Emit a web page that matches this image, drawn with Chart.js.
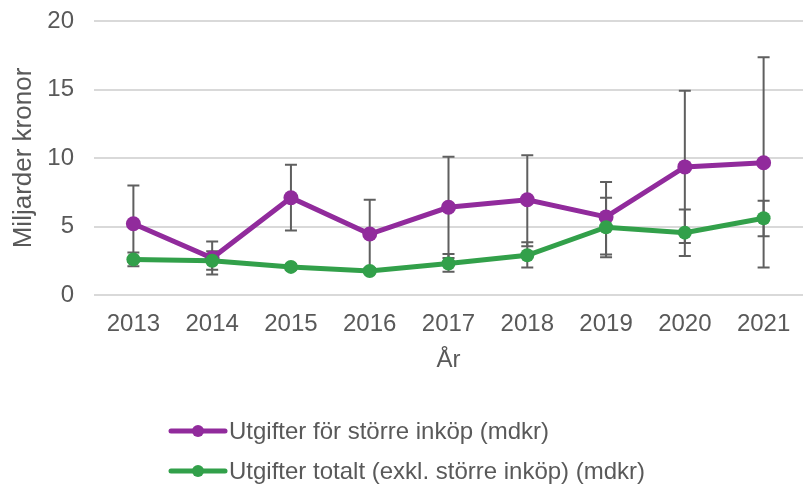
<!DOCTYPE html>
<html>
<head>
<meta charset="utf-8">
<script src="https://cdn.jsdelivr.net/npm/chart.js@4/dist/chart.umd.min.js"></script>
<style>
  html, body { margin: 0; padding: 0; background: #ffffff; }
  #wrap { width: 804px; height: 491px; position: relative; }
</style>
</head>
<body>
<div id="wrap"><canvas id="c"></canvas></div>
<script>
const years = ['2013', '2014', '2015', '2016', '2017', '2018', '2019', '2020', '2021'];
const seriesNames = ['Utgifter för större inköp (mdkr)', 'Utgifter totalt (exkl. större inköp) (mdkr)'];
const purpleValues = [5.2, 2.7, 7.1, 4.45, 6.4, 6.95, 5.7, 9.35, 9.65];
const purpleLow    = [2.4, 1.5, 4.7, 1.95, 2.7, 3.55, 2.95, 3.8, 2.0];
const purpleHigh   = [8.0, 3.9, 9.5, 6.95, 10.1, 10.2, 8.25, 14.9, 17.35];
const greenValues  = [2.6, 2.5, 2.05, 1.75, 2.3, 2.9, 4.95, 4.55, 5.6];
const greenLow     = [2.1, 1.85, 1.85, 1.6, 1.7, 2.0, 2.75, 2.85, 4.28];
const greenHigh    = [3.1, 3.2, 2.25, 1.95, 3.0, 3.85, 7.1, 6.25, 6.88];
const yTicks = [0, 5, 10, 15, 20];

const PURPLE = '#912b9c';
const GREEN = '#32a04a';
const TEXT = '#595959';
const FONT = "'Liberation Sans', Arial, sans-serif";

const errorBars = {
  id: 'errorBars',
  beforeDatasetsDraw(chart) {
    const ctx = chart.ctx;
    const x = chart.scales.x, y = chart.scales.y;
    const sets = [[purpleLow, purpleHigh], [greenLow, greenHigh]];
    ctx.save();
    ctx.strokeStyle = '#5f5f5f';
    ctx.lineWidth = 2;
    sets.forEach(([lo, hi]) => {
      years.forEach((yr, i) => {
        const px = x.getPixelForValue(i);
        const y1 = y.getPixelForValue(lo[i]);
        const y2 = y.getPixelForValue(hi[i]);
        ctx.beginPath();
        ctx.moveTo(px, y1); ctx.lineTo(px, y2);
        ctx.moveTo(px - 6, y1); ctx.lineTo(px + 6, y1);
        ctx.moveTo(px - 6, y2); ctx.lineTo(px + 6, y2);
        ctx.stroke();
      });
    });
    ctx.restore();
  }
};

const customLegend = {
  id: 'customLegend',
  afterDraw(chart) {
    const ctx = chart.ctx;
    const rows = [431, 471];
    ctx.save();
    chart.data.datasets.forEach((ds, i) => {
      const yy = rows[i];
      ctx.strokeStyle = ds.borderColor;
      ctx.lineWidth = 5;
      ctx.lineCap = 'round';
      ctx.beginPath();
      ctx.moveTo(171, yy); ctx.lineTo(225, yy);
      ctx.stroke();
      ctx.fillStyle = ds.borderColor;
      ctx.beginPath();
      ctx.arc(198, yy, 6, 0, Math.PI * 2);
      ctx.fill();
      ctx.fillStyle = TEXT;
      ctx.font = '24px ' + FONT;
      ctx.textBaseline = 'middle';
      ctx.textAlign = 'left';
      ctx.fillText(ds.label, 229, yy + 1);
    });
    ctx.restore();
  }
};

new Chart(document.getElementById('c'), {
  type: 'line',
  data: {
    labels: years,
    datasets: [
      {
        label: seriesNames[0],
        data: purpleValues,
        borderColor: PURPLE,
        backgroundColor: PURPLE,
        borderWidth: 5,
        pointRadius: 7.5,
        pointBorderWidth: 0,
        pointBackgroundColor: PURPLE,
        tension: 0,
        order: 1
      },
      {
        label: seriesNames[1],
        data: greenValues,
        borderColor: GREEN,
        backgroundColor: GREEN,
        borderWidth: 5,
        pointRadius: 7,
        pointBorderWidth: 0,
        pointBackgroundColor: GREEN,
        tension: 0,
        order: 0
      }
    ]
  },
  options: {
    responsive: true,
    maintainAspectRatio: false,
    animation: false,
    layout: { autoPadding: false, padding: { left: 0, right: 1, top: 21, bottom: 106 } },
    plugins: {
      legend: { display: false },
      tooltip: { enabled: false }
    },
    scales: {
      x: {
        offset: true,
        grid: { display: false, drawTicks: false, offset: true },
        border: { display: false },
        ticks: { color: TEXT, font: { family: FONT, size: 24 }, padding: 15, maxRotation: 0 },
        title: { display: true, text: 'År', color: TEXT, font: { family: FONT, size: 24 }, padding: { top: 0, bottom: 10 } },
        afterFit(scale) { scale.height = 90; scale.paddingLeft = 0; scale.paddingRight = 0; }
      },
      y: {
        min: 0, max: 20,
        afterBuildTicks(scale) { scale.ticks = yTicks.map(v => ({ value: v })); },
        grid: { color: '#d9d9d9', lineWidth: 2, drawTicks: false },
        border: { display: false },
        ticks: { color: TEXT, font: { family: FONT, size: 24 }, padding: 20 },
        title: { display: true, text: 'Miljarder kronor', color: TEXT, font: { family: FONT, size: 26 }, padding: { top: 8, bottom: 0 } },
        afterFit(scale) { scale.width = 94; scale.paddingTop = 0; scale.paddingBottom = 0; }
      }
    }
  },
  plugins: [errorBars, customLegend]
});
</script>
</body>
</html>
